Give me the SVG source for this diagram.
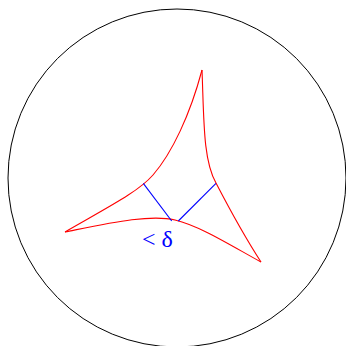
<svg xmlns="http://www.w3.org/2000/svg" width="346" height="346" viewBox="0 0 346 346">
<style>
.edge{fill:none;stroke:#ff0000;stroke-width:1.1}
.seg{fill:none;stroke:#0000ff;stroke-width:1.1}
</style>
<rect width="346" height="346" fill="#ffffff"/>
<g id="disk"><circle cx="177" cy="178" r="169" fill="none" stroke="#000" stroke-width="1"/></g>
<g id="triangle">
<path class="edge" d="M65,232 C110,206 138,192 153,175 C172,153 190,115 202,70"/>
<path class="edge" d="M202,70 C204,120 203,160 216,183 C230,210 250,245 261,262"/>
<path class="edge" d="M65,232 C110,223 150,214 175,220 C200,226 230,245 261,262"/>
</g>
<g id="connectors">
<line class="seg" x1="143.3" y1="183.3" x2="171.7" y2="221"/>
<line class="seg" x1="178.3" y1="221" x2="216" y2="183.3"/>
</g>
<g id="label"><text x="142" y="247" font-family="'Liberation Serif',serif" font-size="24" fill="#0000ff">&lt; δ</text></g>
</svg>
